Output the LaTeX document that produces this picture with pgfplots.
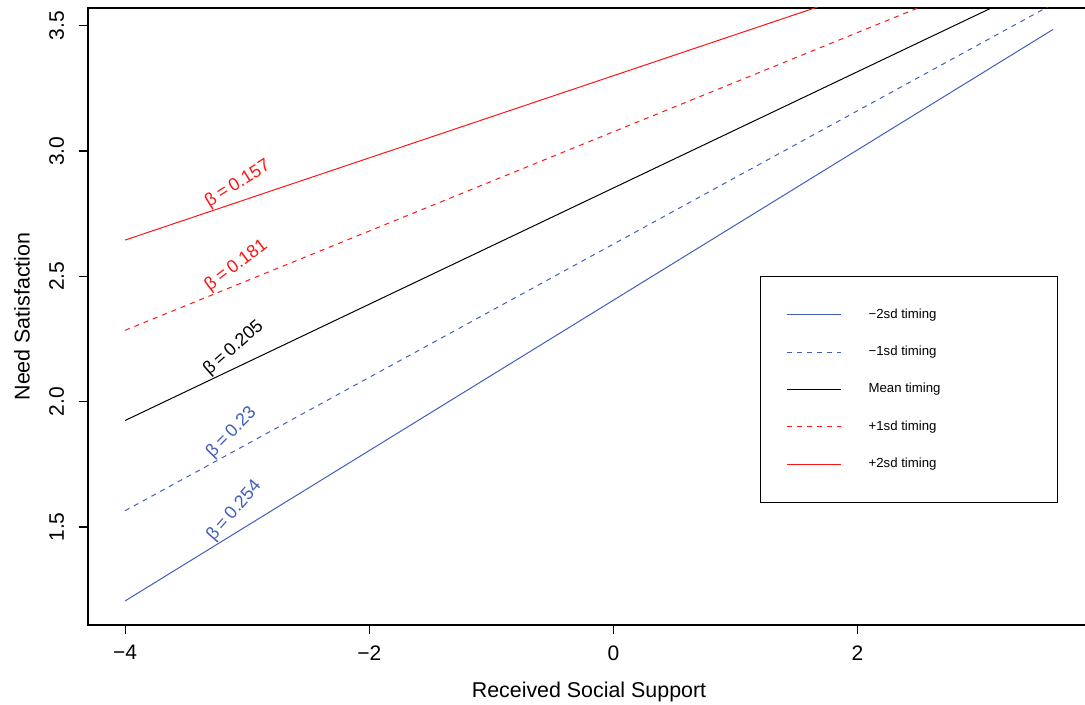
\documentclass[border=0pt]{standalone}
\usepackage{fontspec}
\setmainfont{Liberation Sans}
\usepackage{pgfplots}
\pgfplotsset{compat=1.18}
\definecolor{sdblue}{RGB}{65,95,185}
\definecolor{sdred}{RGB}{255,20,20}
\begin{document}
\begin{tikzpicture}
\begin{axis}[
  name=ax,
  scale only axis,
  width=501pt, height=308.5pt,
  xmin=-4.304, xmax=3.904, ymin=1.109, ymax=3.571,
  xtick={-4,-2,0,2}, xticklabels={−4,−2,0,2},
  ytick={1.5,2,2.5,3,3.5}, yticklabels={1.5,2.0,2.5,3.0,3.5},
  xtick pos=bottom, ytick pos=left,
  tick align=outside, major tick length=4.5pt,
  tick style={black, line width=0.6pt},
  axis line style={line width=0.6pt},
  tick label style={font=\fontsize{10.5}{12}\selectfont, inner sep=0pt},
  xticklabel style={anchor=north},
  yticklabel style={rotate=90, anchor=base},
  xticklabel shift=5.5pt, yticklabel shift=7.5pt,
  xlabel={Received Social Support}, ylabel={Need Satisfaction},
  label style={font=\fontsize{10.7}{12}\selectfont},
  xlabel style={at={(axis description cs:0.5,-0.1085)}, anchor=center},
  ylabel style={at={(axis description cs:-0.0659,0.5)}, anchor=center},
  legend cell align=left,
  legend image code/.code={\draw[#1] (0pt,0pt) -- (27pt,0pt);},
  legend style={at={(axis description cs:0.6707,0.5657)}, anchor=north west,
    draw=black, line width=0.6pt, inner xsep=13pt, inner ysep=16pt,
    row sep=12.5pt, column sep=13.5pt,
    font=\fontsize{6.6}{7.5}\selectfont,
    nodes={inner sep=0pt, text height=4.8pt, text depth=1.4pt}},
]
\addplot[sdblue, line width=0.5pt] coordinates {(-4,1.205) (3.6,3.485)};
\addlegendentry{\makebox[81.5pt][l]{−2sd timing}}
\addplot[sdblue, line width=0.5pt, dash pattern=on 2.5pt off 2.5pt] coordinates {(-4,1.565) (3.6,3.5866)};
\addlegendentry{\makebox[81.5pt][l]{−1sd timing}}
\addplot[black, line width=0.5pt] coordinates {(-4,1.925) (3.6,3.688)};
\addlegendentry{\makebox[81.5pt][l]{Mean timing}}
\addplot[sdred, line width=0.5pt, dash pattern=on 2.5pt off 2.5pt] coordinates {(-4,2.285) (3.6,3.79)};
\addlegendentry{\makebox[81.5pt][l]{+1sd timing}}
\addplot[sdred, line width=0.5pt] coordinates {(-4,2.645) (3.6,3.891)};
\addlegendentry{\makebox[81.5pt][l]{+2sd timing}}

\begin{scope}[every node/.style={inner sep=0pt, anchor=south west, font=\fontsize{9}{10}\selectfont}]
\node[sdred, rotate=32] at (axis cs:-3.295,2.7606) {β\kern1.8pt=\kern1.8pt0.157};
\node[sdred, rotate=37] at (axis cs:-3.287,2.4262) {β\kern1.8pt=\kern1.8pt0.181};
\node[black, rotate=41.5] at (axis cs:-3.29,2.0897) {β\kern1.8pt=\kern1.8pt0.205};
\node[sdblue, rotate=45.5] at (axis cs:-3.26,1.7618) {β\kern1.8pt=\kern1.8pt0.23};
\node[sdblue, rotate=49] at (axis cs:-3.25,1.43) {β\kern1.8pt=\kern1.8pt0.254};
\end{scope}
\end{axis}
\pgfresetboundingbox
\useasboundingbox ([xshift=-44pt,yshift=-40pt]ax.south west) rectangle ([xshift=498.5pt,yshift=4pt]ax.north west);
\end{tikzpicture}
\end{document}
